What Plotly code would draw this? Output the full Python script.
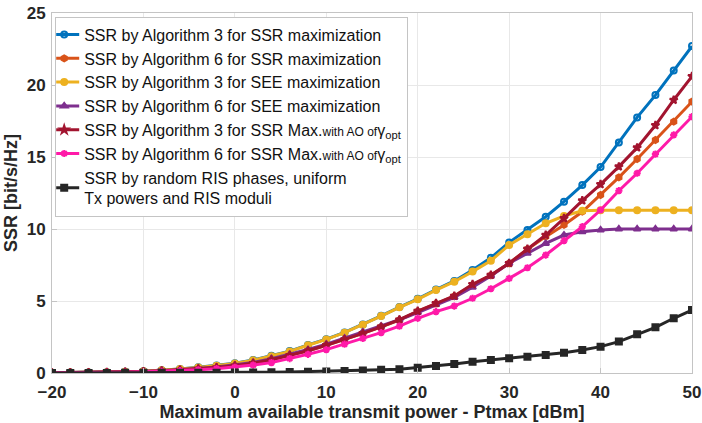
import plotly.graph_objects as go

x = list(range(-20, 51, 2))

alg3_ssr = [0.02, 0.03, 0.04, 0.06, 0.09, 0.13, 0.19, 0.28, 0.4, 0.52, 0.68, 0.9, 1.19, 1.52, 1.95, 2.35,
            2.82, 3.37, 3.97, 4.58, 5.15, 5.8, 6.39, 7.15, 8.0, 9.07, 9.93, 10.85, 11.9, 13.05, 14.3, 16.0,
            17.75, 19.3, 21.0, 22.7]
alg6_ssr = [0.02, 0.03, 0.04, 0.05, 0.07, 0.1, 0.15, 0.21, 0.29, 0.38, 0.5, 0.68, 0.92, 1.23, 1.55, 1.93,
            2.32, 2.75, 3.2, 3.68, 4.28, 4.82, 5.33, 6.12, 6.78, 7.62, 8.6, 9.47, 10.28, 11.2, 12.36, 13.59,
            14.86, 16.18, 17.45, 18.84]
alg3_see = [0.02, 0.03, 0.04, 0.06, 0.09, 0.13, 0.19, 0.27, 0.38, 0.5, 0.66, 0.88, 1.17, 1.5, 1.93, 2.33,
            2.8, 3.35, 3.95, 4.56, 5.12, 5.76, 6.34, 7.04, 7.8, 8.89, 9.63, 10.4, 10.9, 11.27, 11.3, 11.3,
            11.3, 11.3, 11.3, 11.3]
alg6_see = [0.02, 0.03, 0.04, 0.05, 0.08, 0.11, 0.16, 0.22, 0.31, 0.41, 0.55, 0.73, 1.0, 1.3, 1.63, 2.0,
            2.42, 2.85, 3.25, 3.7, 4.2, 4.75, 5.25, 5.95, 6.74, 7.62, 8.31, 9.0, 9.58, 9.81, 9.93, 10.0,
            10.0, 10.0, 10.0, 10.0]
alg3_ao = [0.02, 0.03, 0.04, 0.05, 0.07, 0.1, 0.15, 0.21, 0.29, 0.38, 0.5, 0.68, 0.92, 1.23, 1.55, 1.93,
           2.32, 2.75, 3.2, 3.7, 4.3, 4.84, 5.35, 6.16, 6.8, 7.62, 8.61, 9.58, 10.74, 11.97, 13.1, 14.33,
           15.65, 17.2, 18.96, 20.6]
alg6_ao = [0.02, 0.02, 0.03, 0.04, 0.06, 0.08, 0.11, 0.16, 0.22, 0.3, 0.4, 0.55, 0.72, 1.0, 1.3, 1.62,
           2.0, 2.4, 2.8, 3.25, 3.8, 4.26, 4.65, 5.19, 5.85, 6.57, 7.31, 8.19, 9.19, 10.16, 11.32, 12.66,
           13.87, 15.2, 16.53, 17.8]
random_ris = [0.0, 0.0, 0.0, 0.0, 0.01, 0.01, 0.01, 0.02, 0.02, 0.02, 0.03, 0.04, 0.05, 0.07, 0.09, 0.11,
              0.14, 0.18, 0.22, 0.26, 0.37, 0.49, 0.63, 0.78, 0.9, 1.02, 1.13, 1.25, 1.41, 1.6, 1.83, 2.18,
              2.69, 3.17, 3.8, 4.375]

small = '<span style="font-size:12px">with AO of</span>'
names = [
    "SSR by Algorithm 3 for SSR maximization",
    "SSR by Algorithm 6 for SSR maximization",
    "SSR by Algorithm 3 for SEE maximization",
    "SSR by Algorithm 6 for SEE maximization",
    "SSR by Algorithm 3 for SSR Max." + small + "γ<sub>opt</sub>",
    "SSR by Algorithm 6 for SSR Max." + small + "γ<sub>opt</sub>",
    "SSR by random RIS phases, uniform<br>Tx powers and RIS moduli",
]
series = [alg3_ssr, alg6_ssr, alg3_see, alg6_see, alg3_ao, alg6_ao, random_ris]
colors = ["#0072BD", "#D95319", "#EDB120", "#7E2F8E", "#A2142F", "#FF1AA8", "#262626"]
symbols = ["circle-open", "hexagon", "circle", "triangle-up", "star", "asterisk-open", "square"]

fig = go.Figure()
for n, s, c, m in zip(names, series, colors, symbols):
    fig.add_trace(go.Scatter(
        x=x, y=s, name=n, mode="lines+markers",
        line=dict(color=c, width=3),
        marker=dict(symbol=m, size=6, color=c, line=dict(color=c, width=2)),
    ))

axis_common = dict(
    showline=True, linecolor="#c4c4c4", linewidth=1, mirror=True,
    showgrid=True, gridcolor="#e8e8e8", gridwidth=1,
    zeroline=False, ticks="inside", ticklen=5, tickcolor="#c4c4c4",
    tickfont=dict(family="Liberation Sans", size=17, color="#262626", weight="bold"),
    ticklabeloverflow="allow", automargin=False,
)

fig.update_layout(
    width=702, height=423,
    margin=dict(l=52, r=10, t=13, b=50),
    paper_bgcolor="white", plot_bgcolor="white",
    font=dict(family="Liberation Sans", color="#262626"),
    xaxis=dict(range=[-20, 50], tickvals=[-20, -10, 0, 10, 20, 30, 40, 50],
               ticklabelstandoff=4,
               title=dict(text="Maximum available transmit power - Ptmax [dBm]",
                          font=dict(size=18, weight="bold"), standoff=2),
               **axis_common),
    yaxis=dict(range=[0, 25], tickvals=[0, 5, 10, 15, 20, 25],
               ticklabelstandoff=2,
               title=dict(text="SSR [bit/s/Hz]", font=dict(size=18, weight="bold"), standoff=4),
               **axis_common),
    legend=dict(x=0.005, y=0.99, xanchor="left", yanchor="top",
                bgcolor="white", bordercolor="#c4c4c4", borderwidth=1,
                font=dict(family="Liberation Sans", size=16, color="#111111"),
                itemwidth=30, tracegroupgap=0, indentation=-12),
    showlegend=True,
)

fig.write_html("out.html")
